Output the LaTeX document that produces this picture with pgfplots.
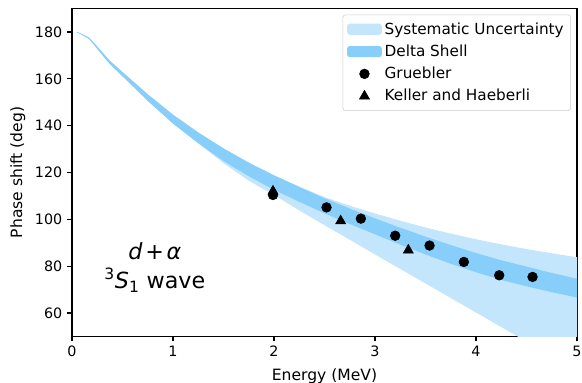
\documentclass[border=0pt]{standalone}
\usepackage{fontspec}
\setmainfont{DejaVu Sans}
\usepackage{pgfplots}
\pgfplotsset{compat=1.18}
\usepackage{pgfplotstable}
\usepgfplotslibrary{fillbetween}
\definecolor{sysblue}{HTML}{C3E6FC}
\definecolor{dsblue}{HTML}{87CEFA}
\pgfplotstableread{
E    dsU   dsL   suU   suL
0.05 180.1 179.9 180.1 179.9
0.17 177.6 177.0 177.6 177.0
0.25 173.8 172.8 173.8 172.8
0.375 167.7 166.3 167.7 166.3
0.5  162.9 161.1 162.9 161.1
0.75 153.4 150.6 153.4 150.6
1.0  144.7 140.9 144.7 140.9
1.25 137.1 132.5 137.1 132.5
1.5  130.3 124.9 130.3 124.0
1.75 124.2 118.4 124.2 116.5
2.0  118.8 112.6 118.8 110.4
2.25 113.8 107.5 114.0 103.8
2.5  109.0 102.6 109.5 97.5
2.75 104.6 98.0  105.8 91.3
3.0  100.4 93.6  102.5 85.0
3.25 96.4  89.2  99.4  78.8
3.5  92.6  85.0  96.5  72.6
3.75 89.0  81.0  93.9  66.4
4.0  85.6  77.4  91.5  60.2
4.25 82.5  74.1  89.3  54.0
4.5  79.8  71.4  87.3  47.8
4.75 77.1  68.9  85.5  41.6
5.0  74.6  66.6  83.8  35.4
}\bands
\pgfplotstableread{
E    ph
1.99 110.4
2.52 105.1
2.86 100.3
3.20 93.0
3.54 88.8
3.88 81.8
4.23 76.1
4.56 75.4
}\gruebler
\pgfplotstableread{
E    ph
1.99 112.0
2.66 99.3
3.33 86.8
}\keller
\begin{document}
\begin{tikzpicture}
\begin{axis}[
  scale only axis, width=363.6pt, height=236pt,
  xmin=0, xmax=5, ymin=50, ymax=190,
  xtick={0,1,2,3,4,5}, ytick={60,80,100,120,140,160,180},
  tick align=outside, tick pos=left, major tick length=3.5pt,
  tick style={black, line width=0.8pt},
  axis line style={black, line width=0.8pt},
  /pgf/number format/assume math mode=true,
  ticklabel style={font=\fontsize{10.3}{12}\selectfont},
  xlabel={Energy (MeV)}, ylabel={Phase shift (deg)},
  label style={font=\fontsize{11.2}{13}\selectfont},
  xlabel style={yshift=-1.5pt},
  legend style={at={(0.988,0.982)}, anchor=north east, draw=black!20,
    rounded corners=2pt, font=\fontsize{11}{13}\selectfont,
    row sep=2.2pt, inner xsep=3pt, inner ysep=3.5pt},
  legend cell align=left,
]
\addplot[name path=su, draw=none, forget plot] table[x=E, y=suU] {\bands};
\addplot[name path=sl, draw=none, forget plot] table[x=E, y=suL] {\bands};
\addplot[name path=du, draw=none, forget plot] table[x=E, y=dsU] {\bands};
\addplot[name path=dl, draw=none, forget plot] table[x=E, y=dsL] {\bands};
\addplot[fill=sysblue, draw=none,
  legend image code/.code={\fill[sysblue] (-0.1cm,-4pt) rectangle (0.78cm,4pt);}]
  fill between[of=su and sl];
\addlegendentry{Systematic Uncertainty}
\addplot[fill=dsblue, draw=none,
  legend image code/.code={\fill[dsblue] (-0.1cm,-4pt) rectangle (0.78cm,4pt);}]
  fill between[of=du and dl];
\addlegendentry{Delta Shell}
\addplot[only marks, mark=*, mark size=3.5pt, black,
  legend image post style={xshift=0.04cm}] table[x=E, y=ph] {\gruebler};
\addlegendentry{Gruebler}
\addplot[only marks, mark=triangle*, mark size=4.2pt, black,
  legend image post style={xshift=0.04cm}] table[x=E, y=ph] {\keller};
\addlegendentry{Keller and Haeberli}
\node[align=center, font=\fontsize{16}{21}\selectfont] at (axis cs:0.82,79.5)
  {\textit{d}\hspace{2pt}+\hspace{2pt}\textit{α}\\\textsuperscript{3}\textit{S}\textsubscript{1} wave};
\end{axis}
\pgfresetboundingbox
\path[use as bounding box] ([shift={(-51.84pt,-33.55pt)}]current axis.south west)
  rectangle ([shift={(3.6pt,6.2pt)}]current axis.north east);
\end{tikzpicture}
\end{document}
